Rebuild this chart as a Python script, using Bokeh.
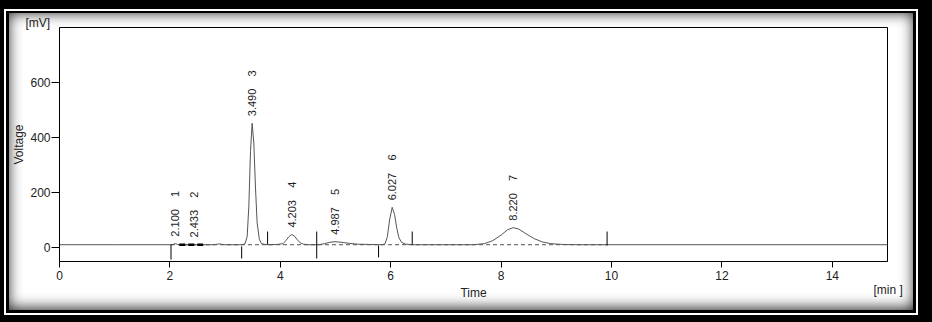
from math import pi
from bokeh.plotting import figure
from bokeh.models import Range1d, FixedTicker, Label
from bokeh.embed import file_html
from bokeh.resources import INLINE
from bokeh.core.properties import value

# ---------------- data ----------------
trace_t = [0.00, 1.00, 2.00, 2.06, 2.10, 2.14, 2.20, 2.80, 2.86, 2.90, 2.95, 3.00,
           3.30, 3.36, 3.40, 3.43, 3.46, 3.49, 3.52, 3.55, 3.58, 3.62, 3.66, 3.72,
           3.80, 3.95, 4.05, 4.10, 4.16, 4.20, 4.25, 4.30, 4.36, 4.42, 4.50, 4.70,
           4.80, 4.90, 4.99, 5.10, 5.25, 5.40, 5.60, 5.85, 5.90, 5.94, 5.98, 6.027,
           6.07, 6.11, 6.15, 6.20, 6.27, 6.40, 7.50, 7.70, 7.85, 8.00, 8.12, 8.22,
           8.32, 8.45, 8.60, 8.75, 8.90, 9.10, 9.40, 15.0]
trace_mv = [10, 10, 10, 11, 14, 11, 10, 10, 12, 13, 11, 10,
            10, 13, 40, 150, 350, 452, 380, 220, 90, 30, 14, 11,
            10, 11, 14, 25, 40, 47, 43, 30, 17, 12, 10, 10,
            14, 19, 21, 19, 15, 12, 11, 10, 14, 40, 100, 146,
            120, 70, 35, 18, 12, 10, 10, 14, 25, 45, 65, 72,
            67, 50, 32, 20, 14, 11, 10, 10]

peak_no = [1, 2, 3, 4, 5, 6, 7]
peak_rt = [2.100, 2.433, 3.490, 4.203, 4.987, 6.027, 8.220]
peak_top = [14, 11, 452, 47, 21, 146, 72]

event_t = [2.02, 3.30, 3.77, 4.66, 5.78, 6.39, 9.92]
event_lo = [-44, -40, 11, -40, -36, 11, 7]
event_hi = [11, 4, 58, 58, 7, 58, 58]

baseline_t = [2.02, 9.92]
baseline_mv = [10, 10]
bold_base_t = [2.17, 2.66]
bold_base_mv = [10, 10]

x_ticks = [0, 2, 4, 6, 8, 10, 12, 14]
y_ticks = [0, 200, 400, 600]

FONT = "Liberation Sans"
INK = "#222222"

p = figure(width=932, height=322, output_backend="svg", toolbar_location=None,
           x_range=Range1d(0, 15), y_range=Range1d(-51, 800),
           min_border_left=59, min_border_right=45, min_border_top=27,
           min_border_bottom=61, background_fill_color="white",
           border_fill_color="white", border_fill_alpha=0)
# decorative double frame with inner shadow (drawn under the transparent canvas border)
p.styles = {
    "background-color": "white",
    "box-shadow": ", ".join([
        "inset 4px 0 0 0 #000", "inset 0 9px 0 0 #000",
        "inset -14px 0 0 0 #000", "inset 0 -7px 0 0 #000",
        "inset 6px 0 0 0 #fff", "inset 0 11px 0 0 #fff",
        "inset -16px 0 0 0 #fff", "inset 0 -9px 0 0 #fff",
        "inset 9px 0 0 0 #000", "inset 0 13px 0 0 #000",
        "inset -19px 0 0 0 #000", "inset 0 -12px 0 0 #000",
        "inset -5px -0.5px 14px 13.5px #2a2a2a",
    ]),
}
p.grid.visible = False
p.outline_line_color = "black"
p.outline_line_width = 1
p.outline_line_alpha = 1

# "[mV]" unit label as left-aligned title
p.title.text = "[mV]"
p.title.align = "left"
p.title.offset = -34
p.title.standoff = -5
p.title.text_font = FONT
p.title.text_font_size = "12px"
p.title.text_font_style = "normal"
p.title.text_color = INK

for ax in (p.xaxis[0], p.yaxis[0]):
    ax.major_label_text_font = FONT
    ax.major_label_text_font_size = "12px"
    ax.major_label_text_color = INK
    ax.axis_label_text_font = FONT
    ax.axis_label_text_font_size = "12px"
    ax.axis_label_text_font_style = "normal"
    ax.axis_label_text_color = INK
    ax.minor_tick_line_color = None
    ax.major_tick_in = 0
    ax.axis_line_color = "black"
    ax.major_tick_line_color = "black"

p.xaxis.ticker = FixedTicker(ticks=x_ticks)
p.xaxis.major_tick_out = 6
p.xaxis.major_label_standoff = 3
p.xaxis.axis_label = "Time"
p.xaxis.axis_label_standoff = 3
p.yaxis.ticker = FixedTicker(ticks=y_ticks)
p.yaxis.major_tick_out = 8
p.yaxis.major_label_standoff = 1
p.yaxis.axis_label = "Voltage"
p.yaxis.axis_label_standoff = 1

# signal
p.line(trace_t, trace_mv, line_color="#555555", line_width=1)
# baselines
p.line(baseline_t, baseline_mv, line_color="#555555", line_width=1, line_dash="4 3")
p.line(bold_base_t, bold_base_mv, line_color="black", line_width=2.5, line_dash="6 3")
# integration event marks
p.segment(x0=event_t, y0=event_lo, x1=event_t, y1=event_hi,
          line_color="black", line_width=1)
# peak labels
NB = "\u00a0"
labels = [f"{rt:.3f}{NB * 4}{n}" for rt, n in zip(peak_rt, peak_no)]
p.text(x=peak_rt, y=peak_top, text=labels, angle=pi / 2, text_align="left",
       text_baseline="middle", y_offset=-7, text_font=value(FONT),
       text_font_size="11px", text_color=INK)

# "[min ]" unit label placed in the right side panel (canvas coordinates)
p.add_layout(Label(x=873, y=282, x_units="canvas", y_units="canvas", text="[min ]",
                   text_baseline="top", text_align="left", text_font=FONT,
                   text_font_size="12px", text_color=INK), "right")

open("out.html", "w").write(file_html(p, INLINE))
